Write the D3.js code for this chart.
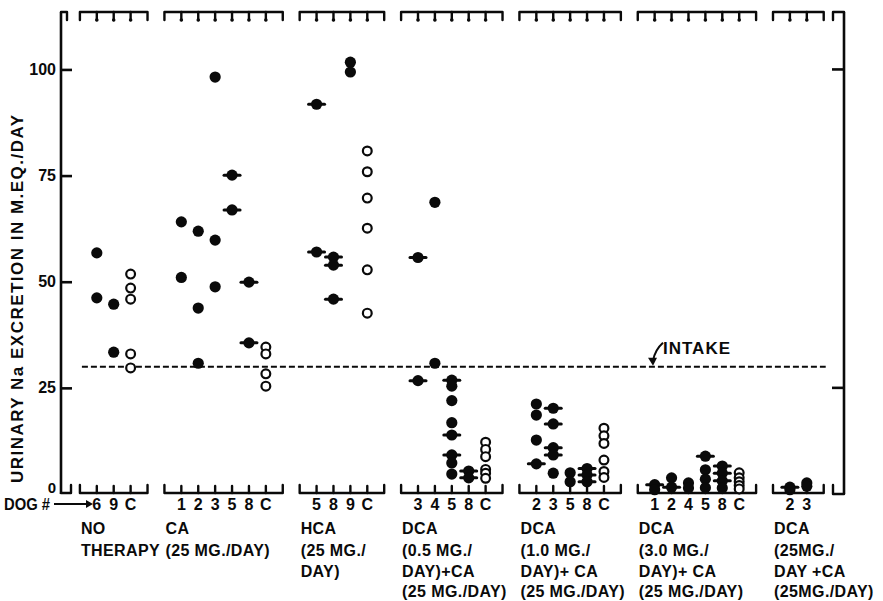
<!DOCTYPE html>
<html><head><meta charset="utf-8">
<script src="https://cdn.jsdelivr.net/npm/d3@7"></script>
<style>
body{margin:0;background:#fff}
svg{display:block}
text{font-family:"Liberation Sans",Arial,sans-serif;font-weight:bold;fill:#0a0a0a}
</style>
</head><body><svg id="c" width="883" height="601"></svg>
<script>
// ---------- data ----------
const yTicks = [100, 75, 50, 25];
const rightTicks = [100, 25];
const intakeValue = 30;
const intakeLabel = "INTAKE";
const yLabel = "URINARY Na EXCRETION IN M.EQ./DAY";
const dogLead = "DOG #";
const groupDogs = [
  ["6","9","C"],
  ["1","2","3","5","8","C"],
  ["5","8","9","C"],
  ["3","4","5","8","C"],
  ["2","3","5","8","C"],
  ["1","2","4","5","8","C"],
  ["2","3"]
];
const groupLabels = [
  ["NO","THERAPY"],
  ["CA","(25 MG./DAY)"],
  ["HCA","(25 MG./","DAY)"],
  ["DCA","(0.5 MG./","DAY)+CA","(25 MG./DAY)"],
  ["DCA","(1.0 MG./","DAY)+ CA","(25 MG./DAY)"],
  ["DCA","(3.0 MG./","DAY)+ CA","(25 MG./DAY)"],
  ["DCA","(25MG./","DAY +CA","(25MG./DAY)"]
];
// rows: [dog, Na excretion (mEq/day), barred marker (1) or plain (0)]
const noTherapy = [["6",56.8,0],["6",46.2,0],["9",44.7,0],["9",33.4,0],
  ["C",51.8,0],["C",48.5,0],["C",45.9,0],["C",33.0,0],["C",29.7,0]];
const caOnly = [["1",64.1,0],["1",51.0,0],["2",61.9,0],["2",43.8,0],["2",30.8,0],
  ["3",98.2,0],["3",59.8,0],["3",48.8,0],["5",75.1,1],["5",66.9,1],["8",49.9,1],["8",35.6,1],
  ["C",34.6,0],["C",33.0,0],["C",28.3,0],["C",25.4,0]];
const hcaOnly = [["5",91.8,1],["5",57.0,1],["8",55.8,1],["8",53.9,1],["8",45.9,1],
  ["9",101.7,0],["9",99.4,0],
  ["C",80.8,0],["C",75.9,0],["C",69.7,0],["C",62.6,0],["C",52.8,0],["C",42.6,0]];
const dca05 = [["3",55.7,1],["3",26.7,1],["4",68.7,0],["4",30.8,0],
  ["5",26.8,1],["5",25.4,0],["5",22.0,0],["5",16.8,0],["5",13.9,1],["5",9.2,1],["5",7.3,0],["5",4.7,0],
  ["8",5.4,1],["8",3.8,1],
  ["C",12.2,0],["C",10.5,0],["C",8.8,0],["C",5.8,0],["C",4.9,0],["C",3.7,0]];
const dca10 = [["2",21.2,0],["2",18.6,0],["2",12.7,0],["2",7.1,1],
  ["3",20.2,1],["3",16.5,1],["3",10.9,1],["3",9.2,1],["3",4.9,0],
  ["5",5.0,0],["5",2.9,0],["8",6.0,1],["8",4.5,1],["8",2.9,1],
  ["C",15.5,0],["C",13.7,0],["C",11.9,0],["C",8.0,0],["C",5.3,0],["C",3.9,0]];
const dca30 = [["1",2.2,1],["1",1.0,0],["2",3.8,0],["2",1.6,1],["4",2.6,0],["4",1.4,0],
  ["5",8.9,1],["5",5.7,0],["5",3.5,0],["5",1.5,0],
  ["8",6.6,1],["8",4.9,1],["8",3.1,1],["8",1.4,0],
  ["C",5.0,0],["C",3.8,0],["C",2.9,0],["C",2.0,0],["C",1.2,0]];
const dca25 = [["2",1.6,1],["2",1.0,0],["3",2.6,0],["3",1.8,0]];
const groupData = [noTherapy, caOnly, hcaOnly, dca05, dca10, dca30, dca25];

// ---------- layout ----------
const ink = "#0a0a0a";
const svg = d3.select("#c");
const yTop = 12, yBot = 494;

// slot layout: each group bracket spans (dogs+1) slots, one-slot gap between groups
let k = 1;
const groups = groupDogs.map((dogs, i) => {
  const start = k, end = k + dogs.length + 1;
  const pos = {};
  dogs.forEach((d, j) => pos[d] = start + 1 + j);
  k = end + 1;
  return {start, end, dogs, pos, labels: groupLabels[i], data: groupData[i]};
});
const lastSlot = k + 0.2;

const x = d3.scaleLinear().domain([0, lastSlot]).range([63, 844]);
const y = d3.scaleLinear().domain([0, 114]).range([yBot, 10]);

// left axis
const ax = svg.append("g").attr("transform", `translate(${x(0)-2},0)`)
  .call(d3.axisLeft(y).tickValues(yTicks).tickSize(-11).tickSizeOuter(0).tickPadding(5).tickFormat(d3.format("d")));
ax.select(".domain").remove();
ax.selectAll(".tick line").attr("stroke", ink).attr("stroke-width", 2.6);
ax.selectAll(".tick text").attr("font-size", 16).attr("fill", ink)
  .style("font-family", '"Liberation Sans",Arial,sans-serif').style("font-weight", "bold");
const axL = x(0) - 2, axR = x(lastSlot);
svg.append("path").attr("d", `M${axL},${yBot} L${axL},${yTop}`).attr("stroke", ink).attr("stroke-width", 2.6).attr("fill", "none");
svg.append("text").attr("x", axL - 5).attr("y", y(0) - 1).attr("text-anchor", "end").attr("font-size", 15).text("0");

// right axis
svg.append("path").attr("d", `M${axR},${yBot} L${axR},${yTop}`).attr("stroke", ink).attr("stroke-width", 2.6).attr("fill", "none");
svg.append("g").selectAll("line").data(rightTicks).join("line")
  .attr("x1", axR).attr("x2", axR - 12).attr("y1", d => y(d)).attr("y2", d => y(d))
  .attr("stroke", ink).attr("stroke-width", 2.6);

// corner hooks
const hook = (d) => svg.append("path").attr("d", d).attr("stroke", ink).attr("stroke-width", 2.4)
  .attr("fill", "none").attr("stroke-linejoin", "round").attr("stroke-linecap", "round");
hook(`M${axL},${yTop} L${axL+6},${yTop} L${axL+6},${yTop+8}`);
hook(`M${axL},${yBot-1} L${axL+10},${yBot-1} L${axL+10},${yBot-9}`);
hook(`M${axR-11},${yTop+8} L${axR-11},${yTop} L${axR},${yTop}`);
hook(`M${axR-11},${yBot-9} L${axR-11},${yBot} L${axR},${yBot}`);

// group brackets (top and bottom)
groups.forEach(g => {
  const x0 = x(g.start), x1 = x(g.end);
  hook(`M${x0},${yTop+8} L${x0},${yTop} L${x1},${yTop} L${x1},${yTop+8}`);
  hook(`M${x0},${yBot-9} L${x0},${yBot-1} L${x1},${yBot-1} L${x1},${yBot-9}`);
  g.dogs.forEach(d => {
    const xx = x(g.pos[d]);
    hook(`M${xx},${yTop} L${xx},${yTop+8}`);
    svg.append("circle").attr("cx", xx).attr("cy", yTop+8).attr("r", 1.8).attr("fill", ink);
    hook(`M${xx},${yBot-1} L${xx},${yBot-8}`);
  });
});

// intake line
svg.append("line").attr("x1", x(1) + 2).attr("x2", x(45) + 2)
  .attr("y1", y(intakeValue)).attr("y2", y(intakeValue))
  .attr("stroke", ink).attr("stroke-width", 2).attr("stroke-dasharray", "6,3");
svg.append("text").attr("x", 663).attr("y", y(intakeValue) - 13).attr("font-size", 17)
  .attr("letter-spacing", 1).text(intakeLabel);
svg.append("path").attr("d", `M663,${y(intakeValue)-24} Q655,${y(intakeValue)-17} 653,${y(intakeValue)-6}`)
  .attr("stroke", ink).attr("stroke-width", 2).attr("fill", "none");
svg.append("path").attr("d", `M648,${y(intakeValue)-9} L653,${y(intakeValue)-1} L657,${y(intakeValue)-9} Z`).attr("fill", ink);

// points
groups.forEach(g => {
  const gg = svg.append("g");
  g.data.forEach(([dog, v, barred]) => {
    const cx = x(g.pos[dog]), cy = y(v);
    if (dog === "C") {
      gg.append("circle").attr("cx", cx).attr("cy", cy).attr("r", 4.4)
        .attr("fill", "#fff").attr("stroke", ink).attr("stroke-width", 2.2);
    } else {
      if (barred) gg.append("rect").attr("x", cx - 9.5).attr("y", cy - 1.5).attr("width", 19).attr("height", 3).attr("rx", 1.5).attr("fill", ink);
      gg.append("circle").attr("cx", cx).attr("cy", cy).attr("r", 5.6).attr("fill", ink);
    }
  });
});

// dog labels row
const rowY = [510, 534, 556, 577, 597];
svg.append("text").attr("x", 4).attr("y", rowY[0]).attr("font-size", 16)
  .attr("textLength", 46).attr("lengthAdjust", "spacingAndGlyphs").text(dogLead);
svg.append("line").attr("x1", 54).attr("x2", 88).attr("y1", rowY[0]-6).attr("y2", rowY[0]-6).attr("stroke", ink).attr("stroke-width", 1.8);
svg.append("path").attr("d", `M86,${rowY[0]-10} L93,${rowY[0]-6} L86,${rowY[0]-2} Z`).attr("fill", ink);
groups.forEach(g => {
  g.dogs.forEach(d => {
    svg.append("text").attr("x", x(g.pos[d])).attr("y", rowY[0]).attr("text-anchor", "middle")
      .attr("font-size", 16).text(d);
  });
  g.labels.forEach((t, i) => {
    svg.append("text").attr("x", x(g.start) + 1).attr("y", rowY[i+1]).attr("font-size", 16)
      .attr("letter-spacing", 0.4).text(t);
  });
});

// y label
svg.append("text").attr("transform", "translate(23,299) rotate(-90)").attr("text-anchor", "middle")
  .attr("font-size", 17).attr("textLength", 368).attr("lengthAdjust", "spacing").text(yLabel);
</script>
</body></html>
